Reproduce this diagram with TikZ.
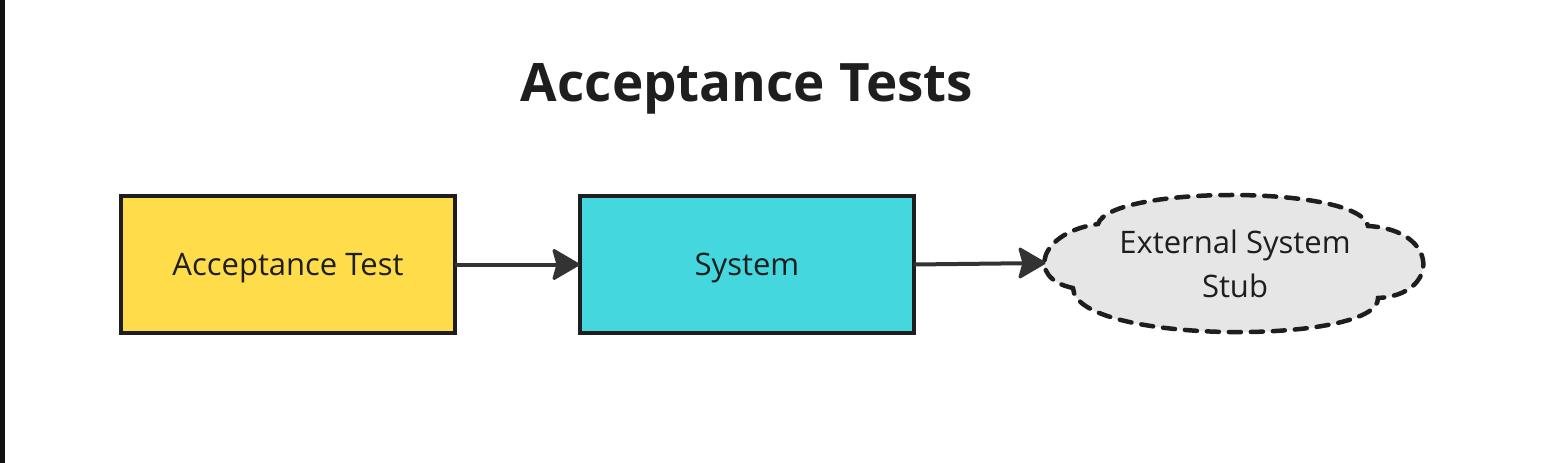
\documentclass[tikz,border=0pt]{standalone}
\usepackage{fontspec}
\setmainfont{Open Sans}
\usetikzlibrary{arrows.meta}
\definecolor{ink}{HTML}{1E1E1E}
\definecolor{lnk}{HTML}{333333}
\definecolor{bar}{HTML}{111111}
\definecolor{yellowfill}{HTML}{FFDC4A}
\definecolor{cyanfill}{HTML}{44D7DE}
\definecolor{cloudfill}{HTML}{E6E6E6}
\begin{document}
\begin{tikzpicture}[x=1pt,y=-1pt,
  box/.style={draw=ink, line width=3.5pt, minimum width=334pt, minimum height=137pt,
    inner sep=0pt, outer sep=0pt, font=\fontsize{31}{44}\selectfont, text=ink,
    text height=28pt, text depth=7pt},
  titlestyle/.style={font=\fontsize{53}{60}\selectfont\bfseries, text=ink, inner sep=0pt},
  cloudtext/.style={font=\fontsize{31}{44}\selectfont, text=ink, align=center, inner sep=0pt},
  cloudline/.style={draw=ink, fill=cloudfill, line width=4.5pt, line cap=round, dash pattern=on 12pt off 10pt},
  headstyle/.style={fill=lnk, draw=lnk, line width=3pt, line join=round},
  conn/.style={draw=lnk, line width=4pt, shorten >=20pt},
]
\useasboundingbox (0,0) rectangle (1545,463);
\fill[white] (0,0) rectangle (1545,463);
\fill[bar] (0,0) rectangle (4.5,463);
\node[titlestyle, anchor=base] (title) at (747,101) {Acceptance Tests};
\node[box, fill=yellowfill] (test) at (288,264.5) {Acceptance Test};
\node[box, fill=cyanfill] (sys) at (747,264.5) {System};
\path[cloudline] (1073,288) .. controls (1025,278) and (1040,232) .. (1098,224)
  .. controls (1110,185) and (1360,185) .. (1368,226)
  .. controls (1440,230) and (1440,295) .. (1378,298)
  .. controls (1380,345) and (1075,345) .. (1073,288) -- cycle;
\node[cloudtext] (stub) at (1235,264) {External System\\Stub};
\coordinate (stubW) at (1044,263);
\coordinate (sysW) at ([xshift=-2pt]sys.west);
\draw[conn] (test.east) -- (sysW);
\draw[conn] (sys.east) -- (stubW);
% arrowheads (tip at target, back corners 25pt behind, +-14pt)
\path[headstyle] (sysW) -- ++(-24,-14) -- ++(4,14) -- ++(-4,14) -- cycle;
\path[headstyle] (stubW) -- ++(-24,-14) -- ++(4,14) -- ++(-4,14) -- cycle;
\end{tikzpicture}
\end{document}
